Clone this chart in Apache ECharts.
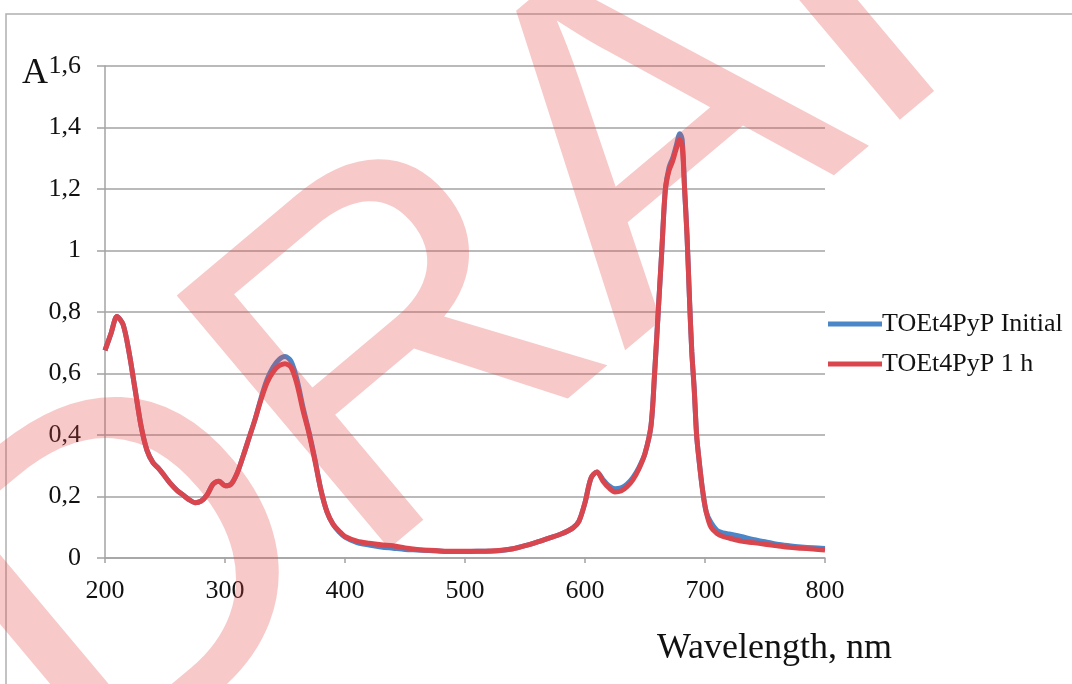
<!DOCTYPE html>
<html>
<head>
<meta charset="utf-8">
<script src="https://cdn.jsdelivr.net/npm/echarts@6/dist/echarts.min.js"></script>
<style>html,body{margin:0;padding:0;background:#fff}#c{width:1072px;height:684px}</style>
</head>
<body>
<div id="c"></div>
<script>
const wavelengths = [200,205,210,215,220,225,230,235,240,245,250,255,260,265,270,275,280,285,290,295,300,305,310,315,320,325,330,335,340,345,350,355,360,365,370,375,380,385,390,395,400,410,420,430,440,450,460,470,480,490,500,510,520,530,540,550,560,570,580,590,595,600,605,610,615,620,625,630,635,640,645,650,655,658,661,664,667,670,673,676,679,681,683,685,687,689,691,693,695,698,701,705,710,715,720,730,740,750,760,770,780,790,800];
const initialValues = [0.675,0.73,0.785,0.76,0.67,0.55,0.43,0.35,0.31,0.29,0.265,0.24,0.22,0.205,0.19,0.18,0.185,0.205,0.24,0.25,0.235,0.24,0.275,0.33,0.39,0.45,0.52,0.58,0.62,0.645,0.655,0.64,0.58,0.49,0.41,0.32,0.22,0.15,0.11,0.085,0.068,0.05,0.042,0.036,0.032,0.028,0.026,0.024,0.022,0.021,0.021,0.022,0.022,0.024,0.03,0.04,0.052,0.065,0.078,0.098,0.12,0.18,0.26,0.28,0.255,0.235,0.225,0.228,0.24,0.262,0.295,0.34,0.43,0.6,0.8,1.0,1.2,1.27,1.3,1.34,1.38,1.36,1.2,1.05,0.85,0.67,0.55,0.4,0.32,0.22,0.15,0.115,0.09,0.082,0.078,0.07,0.06,0.053,0.045,0.04,0.036,0.033,0.031];
const oneHourValues = [0.675,0.73,0.785,0.76,0.67,0.55,0.43,0.35,0.31,0.29,0.265,0.24,0.22,0.205,0.19,0.18,0.185,0.205,0.24,0.25,0.235,0.24,0.275,0.33,0.39,0.45,0.515,0.57,0.605,0.625,0.632,0.62,0.565,0.48,0.405,0.315,0.22,0.15,0.11,0.088,0.07,0.055,0.048,0.043,0.04,0.033,0.028,0.025,0.023,0.022,0.022,0.022,0.023,0.025,0.03,0.04,0.052,0.065,0.078,0.098,0.12,0.18,0.26,0.28,0.25,0.228,0.215,0.218,0.232,0.255,0.29,0.34,0.43,0.6,0.8,1.0,1.2,1.26,1.29,1.33,1.36,1.34,1.2,1.05,0.85,0.67,0.55,0.4,0.32,0.22,0.15,0.1,0.08,0.07,0.065,0.055,0.05,0.045,0.04,0.035,0.032,0.029,0.026];
const seriesNames = ['TOEt4PyP Initial','TOEt4PyP 1 h'];
const xTickLabels = ['200','300','400','500','600','700','800'];
const yTickLabels = ['0','0,2','0,4','0,6','0,8','1','1,2','1,4','1,6'];
const yAxisTitle = 'A';
const xAxisTitle = 'Wavelength, nm';
const watermarkText = 'DRAFT';

const serif = "'Liberation Serif', 'DejaVu Serif', serif";
const pairs = vals => wavelengths.map((w,i)=>[w, vals[i]]);
const chart = echarts.init(document.getElementById('c'), null, {renderer:'canvas'});
chart.setOption({
  animation:false,
  backgroundColor:'#fff',
  grid:{left:105,right:247,top:66,bottom:126,containLabel:false},
  xAxis:{type:'value',min:200,max:800,interval:100,
    axisLine:{show:true,lineStyle:{color:'#a3a3a3',width:1.5}},
    axisTick:{show:true,length:5,lineStyle:{color:'#a3a3a3',width:1.5}},
    splitLine:{show:false},
    axisLabel:{margin:20,color:'#111',fontFamily:serif,fontSize:26,
      formatter:v=>xTickLabels[Math.round((v-200)/100)] ?? ''}},
  yAxis:{type:'value',min:0,max:1.6,interval:0.2,
    axisLine:{show:true,lineStyle:{color:'#a3a3a3',width:1.5}},
    axisTick:{show:true,length:8,lineStyle:{color:'#a3a3a3',width:1.5}},
    splitLine:{show:true,lineStyle:{color:'#a3a3a3',width:1.5}},
    axisLabel:{margin:24,color:'#111',fontFamily:serif,fontSize:26,
      formatter:v=>yTickLabels[Math.round(v/0.2)] ?? ''}},
  legend:{orient:'vertical',left:823,top:306,itemWidth:54,itemHeight:5,itemGap:14,
    icon:'rect',
    textStyle:{fontFamily:serif,fontSize:26,color:'#111',lineHeight:26,padding:[0,0,0,-5]},
    data:seriesNames},
  graphic:[
    {type:'rect',silent:true,z:-10,shape:{x:6,y:14,width:1100,height:720},style:{fill:'none',stroke:'#b0b0b0',lineWidth:1.5}},
    {type:'text',silent:true,z:100,x:621,y:181,rotation:40*Math.PI/180,
      style:{text:watermarkText,fontSize:480,fontFamily:"'Liberation Sans', Arial, sans-serif",fill:'rgba(228,70,70,0.29)',align:'center',verticalAlign:'middle'}},
    {type:'text',silent:true,x:22,y:92,style:{text:yAxisTitle,fontFamily:serif,fontSize:36,fill:'#111',verticalAlign:'bottom'}},
    {type:'text',silent:true,x:657,y:667,style:{text:xAxisTitle,fontFamily:serif,fontSize:36,fill:'#111',verticalAlign:'bottom'}}
  ],
  series:[
    {name:seriesNames[0],type:'line',data:pairs(initialValues),showSymbol:false,symbol:'none',smooth:0.3,
      lineStyle:{color:'#4a86c8',width:5},itemStyle:{color:'#4a86c8'}},
    {name:seriesNames[1],type:'line',data:pairs(oneHourValues),showSymbol:false,symbol:'none',smooth:0.3,
      lineStyle:{color:'#d9464e',width:5},itemStyle:{color:'#d9464e'}}
  ]
});
</script>
</body>
</html>
